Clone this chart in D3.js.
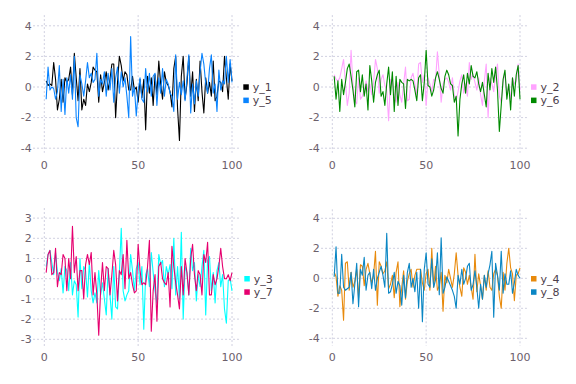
<!DOCTYPE html>
<html>
<head>
<meta charset="utf-8">
<script src="https://cdn.jsdelivr.net/npm/d3@7"></script>
<style>
  body { margin: 0; background: #fff; }
  text { font-family: "DejaVu Sans", sans-serif; font-size: 11px; }
  .tick-label { fill: #6c606b; }
  .legend-label { fill: #4c404b; }
  .grid line { stroke: #d0d0e0; stroke-width: 1; stroke-dasharray: 2,2; }
</style>
</head>
<body>
<div id="chart"></div>
<script>
// x positions shared by every series
var xs = d3.range(1, 101);
var xTicks = [0, 50, 100];

var y1 = [0.4,0.1,0.2,0.1,1.6,0.5,-1.5,-0.8,0.5,-1.0,0.6,0.3,0.5,1.3,-0.5,2.2,0.6,-0.9,1.2,-1.5,
  -0.8,-1.2,0.2,-0.3,0.3,1.3,1.1,1.0,-1.0,0.8,-0.3,0.3,1.0,-0.2,0.5,1.5,1.5,-2.0,0.3,2.0,
  1.4,0.4,1.0,0.8,-0.2,-0.2,0.7,-0.2,0.0,-1.0,0.5,-0.7,0.5,-2.8,0.7,-0.4,0.6,-1.2,0.8,-0.5,
  1.7,0.2,-0.8,1.0,0.3,0.1,-0.3,-1.3,1.2,2.0,-1.4,-3.5,0.7,2.0,-0.8,0.2,2.0,-0.6,1.0,-1.6,
  0.5,-0.9,1.7,-0.3,-1.7,0.6,-0.4,0.3,-0.6,1.7,-0.9,-0.6,0.4,0.3,-0.3,2.0,0.6,-0.8,1.5,0.4];
var y5 = [-0.8,1.3,-0.2,0.0,-0.1,-0.8,-0.3,1.4,-1.6,0.5,-1.8,0.6,-0.4,0.8,-0.8,2.0,-2.0,-2.6,0.8,0.2,
  -0.6,0.4,1.6,0.6,0.9,0.3,0.5,2.2,-0.6,0.5,0.2,1.0,-0.6,0.9,-0.2,1.2,-1.0,0.6,1.3,-0.4,
  1.0,0.0,0.6,-0.6,-2.0,3.3,-0.6,0.0,-1.9,-0.3,0.6,-0.8,-1.0,1.2,-0.3,0.9,-0.6,0.7,0.9,-1.2,
  0.6,-0.4,1.2,-0.6,0.5,0.2,-0.4,-0.6,-1.6,2.1,-0.8,0.3,-0.5,0.4,-0.9,0.6,2.1,-1.7,0.2,-1.1,
  0.4,-0.6,1.0,2.2,1.5,0.2,-0.4,1.2,2.1,-0.4,0.2,-1.6,1.1,-0.2,0.4,0.2,2.0,0.3,1.8,0.3];

var y2 = [0.8,0.5,0.4,0.6,1.2,1.8,0.3,-1.2,-0.4,2.4,0.2,-0.9,-1.1,0.6,-0.8,-0.6,-0.2,0.4,-0.3,0.2,
  -0.5,0.3,1.8,1.2,-0.4,0.5,0.8,0.1,-0.2,-2.2,0.5,0.4,-0.6,-1.0,0.3,-0.5,-1.0,0.2,1.3,-0.9,
  -0.8,0.6,0.9,0.2,-0.5,1.5,1.6,0.3,0.8,-1.2,0.6,0.2,-0.3,0.5,0.4,2.3,0.8,-1.0,0.2,0.5,
  0.6,0.3,-0.2,0.6,-0.6,-0.9,-0.3,0.4,0.8,-0.4,0.2,-0.6,1.6,0.5,0.8,0.3,-0.2,0.6,-0.5,-1.2,
  0.4,1.5,-2.0,0.6,0.2,-0.3,0.8,1.5,-0.6,-1.0,0.3,0.9,-0.5,0.1,-0.8,0.6,0.2,0.4,1.5,-0.2];
var y6 = [0.7,-0.8,0.4,-1.6,0.5,-0.5,0.3,1.2,1.5,0.7,-0.2,-1.3,1.0,1.1,-0.3,0.8,-0.6,0.2,-1.5,1.4,
  0.4,-1.0,0.3,0.8,1.1,-0.6,-0.3,-1.2,0.2,1.3,-0.5,1.0,-1.6,0.7,-1.2,0.5,0.3,0.2,-1.4,0.5,
  0.4,0.5,0.4,-0.2,-0.9,0.6,0.8,-0.9,0.3,2.4,0.1,0.0,-0.6,-0.2,0.6,1.0,0.5,-0.1,-0.4,0.7,
  1.1,0.8,0.2,0.1,-1.0,-0.6,-3.2,-0.8,0.2,0.8,-0.4,0.9,0.2,1.4,0.7,0.6,1.0,0.2,-0.3,0.3,
  -0.5,-1.3,0.9,-0.2,1.2,0.3,1.3,-0.2,-2.9,-1.2,0.5,1.1,-0.8,0.2,-1.5,0.6,-0.6,0.8,1.4,-0.8];

var y3 = [0.6,1.2,1.4,0.8,0.2,1.3,0.3,-0.1,0.5,-0.7,0.6,0.4,-0.6,0.8,-0.8,-0.1,-0.3,-1.9,1.0,-0.5,
  0.6,0.4,-0.9,0.8,-0.6,-1.2,-0.7,-1.2,0.4,-0.8,-0.2,-1.0,-1.8,0.5,-0.8,-2.0,0.6,-1.4,-1.5,0.3,
  2.5,-0.6,-1.1,-0.8,-0.6,1.2,0.4,-0.6,0.5,0.8,-0.3,0.6,-2.5,0.2,0.5,-0.4,1.3,0.3,-0.6,-1.2,
  1.2,0.7,0.9,-0.4,0.6,0.2,0.7,-0.5,2.0,-0.8,0.6,-1.0,2.3,-2.0,0.6,0.3,-0.8,1.5,0.4,0.8,
  -1.1,0.2,-0.4,0.6,1.4,-1.8,0.9,1.1,-0.6,0.3,-1.2,0.4,0.8,-0.4,0.2,-1.5,-2.2,-0.1,0.0,-0.6];
var y7 = [0.3,1.2,1.4,0.2,0.3,1.5,-0.4,0.3,0.2,1.2,1.0,-0.6,1.0,0.0,2.6,0.3,1.1,-0.6,0.4,0.4,
  -1.0,0.7,1.2,0.7,1.3,-0.8,0.3,-0.8,-2.8,-0.6,0.8,-0.6,0.6,0.5,-0.8,0.2,1.4,0.7,-1.1,0.4,
  0.2,1.2,-0.5,1.9,0.0,0.3,-0.3,-0.7,-0.6,1.7,0.4,-0.3,-0.2,-0.3,0.6,1.9,-2.6,-0.6,0.2,-2.1,
  0.6,0.8,0.0,-0.2,-0.3,0.3,-1.4,1.6,0.6,-0.2,-0.8,-1.5,0.6,-0.8,1.0,0.3,-0.8,1.0,1.7,0.2,
  -0.6,0.4,0.2,-0.8,1.2,0.8,1.8,-0.8,-0.8,0.2,-0.3,0.0,0.6,1.5,0.6,0.0,0.0,0.2,-0.1,0.3];

var y4 = [0.4,0.1,-1.2,-0.5,-0.8,-2.8,1.0,1.1,-0.8,0.4,-0.6,-0.2,0.6,-1.3,0.9,0.8,-0.5,0.6,1.0,0.3,
  -0.3,0.2,1.8,-1.8,1.1,0.8,0.3,0.5,1.1,-0.7,-0.4,0.2,-1.3,0.4,1.1,-1.9,-0.6,0.5,-1.4,-0.2,
  0.3,0.6,-0.6,0.2,0.6,0.6,0.6,-0.3,-0.8,0.3,0.6,-0.8,2.0,-0.6,0.8,-0.8,-0.5,0.4,-2.2,0.2,
  -0.3,0.6,0.0,-0.6,0.3,1.7,0.2,-0.6,-1.2,0.7,0.4,-0.4,0.2,-0.6,-1.4,1.6,-0.9,0.3,-0.5,-1.4,
  0.2,-0.8,0.5,-0.6,-0.8,0.3,0.6,0.2,-1.2,-2.0,0.4,-0.8,1.0,2.0,0.7,0.3,-1.5,0.2,0.3,0.7];
var y8 = [0.1,2.1,-1.0,-1.0,1.6,-0.6,-0.8,-0.7,-0.6,0.4,-1.7,-0.4,1.0,-1.9,0.6,0.2,1.4,-0.8,0.2,0.4,
  -0.7,0.6,-0.8,0.0,0.4,0.8,0.2,-0.6,3.0,-1.0,-0.9,-0.4,0.4,-1.0,-0.2,-0.5,-1.8,0.2,-1.3,0.4,
  1.0,-0.6,0.0,-0.9,0.4,-2.0,0.6,-2.9,0.6,1.7,-0.4,-0.6,1.3,-0.6,-0.1,1.7,-1.1,2.7,-1.0,-0.6,
  0.1,-0.2,-0.5,-0.8,-1.2,-2.0,0.2,-0.4,0.6,-0.4,0.0,0.8,1.0,-0.8,-0.4,0.5,-0.6,-2.0,-0.4,-1.4,
  0.2,-0.6,0.3,0.9,1.8,-2.6,1.0,0.2,-0.8,1.8,-1.0,0.3,-0.4,-0.4,0.5,-1.0,-0.3,0.6,0.2,0.0];

var panels = [
  {left: 44.3, top: 87, unit: 15.3, yTicks: [4, 2, 0, -2, -4], yTop: 4.7, yBot: -4.3,
   labelY: 165, series: [{name: "y_1", vals: y1, color: "#000000"}, {name: "y_5", vals: y5, color: "#0a84ff"}],
   legendX: 243.3, legendY: 84.3},
  {left: 332.3, top: 87, unit: 15.3, yTicks: [4, 2, 0, -2, -4], yTop: 4.7, yBot: -4.3,
   labelY: 165, series: [{name: "y_2", vals: y2, color: "#ffa3ff"}, {name: "y_6", vals: y6, color: "#008a00"}],
   legendX: 531, legendY: 84.3},
  {left: 44.3, top: 278.7, unit: 20.2, yTicks: [3, 2, 1, 0, -1, -2, -3], yTop: 3.5, yBot: -3.4,
   labelY: 357, series: [{name: "y_3", vals: y3, color: "#00ffff"}, {name: "y_7", vals: y7, color: "#e6006f"}],
   legendX: 244.3, legendY: 276},
  {left: 332.3, top: 278.3, unit: 15.0, yTicks: [4, 2, 0, -2, -4], yTop: 4.6, yBot: -4.5,
   labelY: 357, series: [{name: "y_4", vals: y4, color: "#e88a0c"}, {name: "y_8", vals: y8, color: "#0a86c4"}],
   legendX: 531, legendY: 276}
];

var svg = d3.select("#chart").append("svg")
  .attr("width", 576)
  .attr("height", 384);

panels.forEach(function(p) {
  var step = 1.877;
  var x = d3.scaleLinear().domain([0, 100]).range([p.left, p.left + 100 * step]);
  var y = d3.scaleLinear().domain([0, 1]).range([p.top, p.top - p.unit]);
  var xMin = -6, xMax = 103.7;

  var g = svg.append("g");

  // dotted grid
  var grid = g.append("g").attr("class", "grid");
  grid.selectAll(".h").data(p.yTicks).enter().append("line")
    .attr("x1", x(xMin)).attr("x2", x(xMax))
    .attr("y1", function(d) { return y(d); })
    .attr("y2", function(d) { return y(d); });
  grid.selectAll(".v").data(xTicks).enter().append("line")
    .attr("x1", function(d) { return x(d); })
    .attr("x2", function(d) { return x(d); })
    .attr("y1", y(p.yTop)).attr("y2", y(p.yBot));

  // tick labels
  g.selectAll(".yl").data(p.yTicks).enter().append("text")
    .attr("class", "tick-label")
    .attr("x", p.left - 12.5)
    .attr("y", function(d) { return y(d); })
    .attr("dy", "0.35em")
    .attr("text-anchor", "end")
    .text(function(d) { return d; });
  g.selectAll(".xl").data(xTicks).enter().append("text")
    .attr("class", "tick-label")
    .attr("x", function(d) { return x(d); })
    .attr("y", p.labelY)
    .attr("dy", "0.35em")
    .attr("text-anchor", "middle")
    .text(function(d) { return d; });

  var line = d3.line()
    .x(function(d, i) { return x(xs[i]); })
    .y(function(d) { return y(d); });

  p.series.forEach(function(s) {
    g.append("path")
      .datum(s.vals)
      .attr("fill", "none")
      .attr("stroke", s.color)
      .attr("stroke-width", 1.1)
      .attr("stroke-linejoin", "round")
      .attr("d", line);
  });

  // legend
  var leg = g.selectAll(".leg").data(p.series).enter().append("g")
    .attr("transform", function(d, i) { return "translate(" + p.legendX + "," + (p.legendY + i * 13.3) + ")"; });
  leg.append("rect")
    .attr("width", 5.5).attr("height", 5.5)
    .attr("fill", function(d) { return d.color; });
  leg.append("text")
    .attr("class", "legend-label")
    .attr("x", 9.5)
    .attr("y", 2.9)
    .attr("dy", "0.35em")
    .text(function(d) { return d.name; });
});
</script>
</body>
</html>
